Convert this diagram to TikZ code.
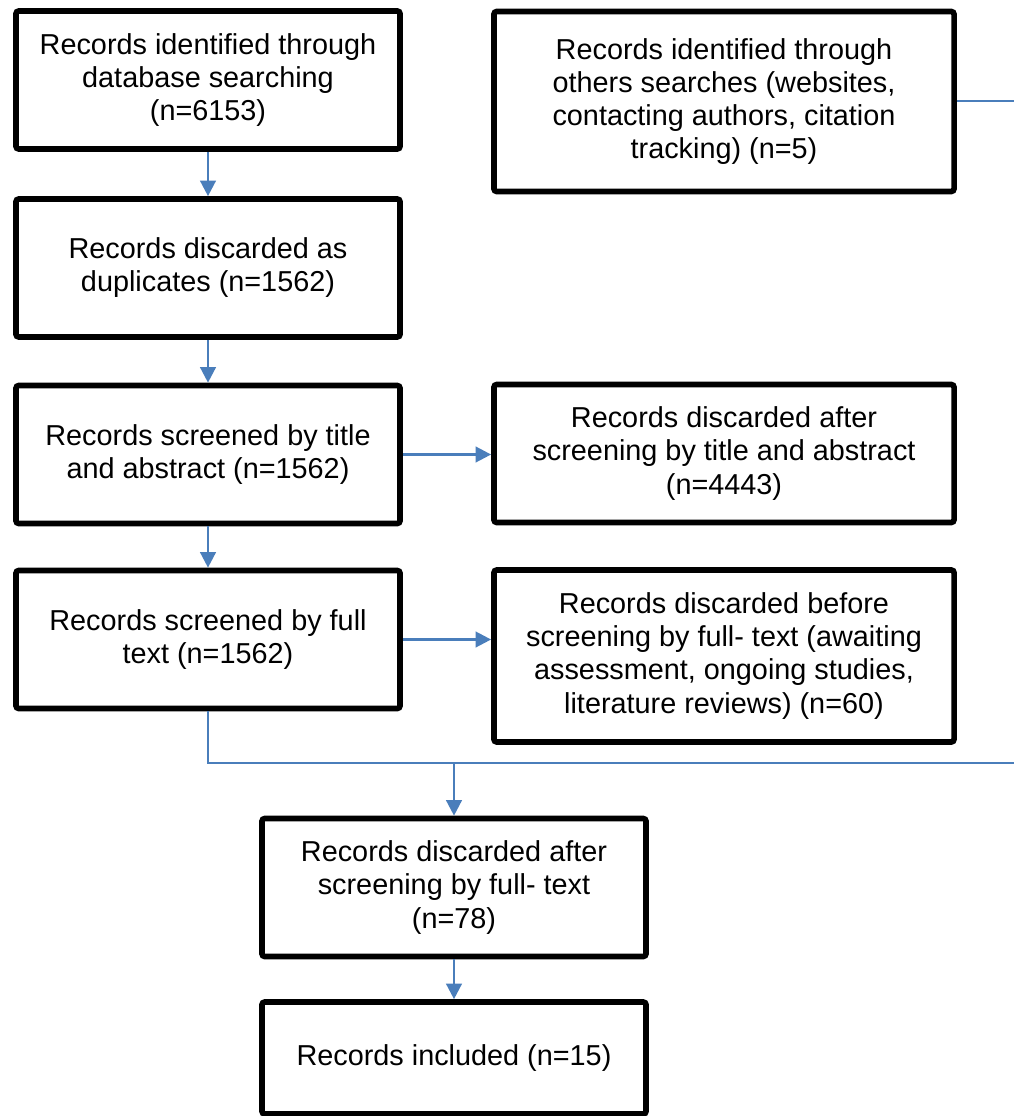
\documentclass[tikz,border=0pt]{standalone}
\usepackage{fontspec}
\setmainfont{Liberation Sans}
\usetikzlibrary{positioning,arrows.meta,calc}
\definecolor{flowCol}{HTML}{4A7EBB}
\definecolor{boxStroke}{HTML}{000000}

\begin{document}
\begin{tikzpicture}[
  x=0.025cm, y=-0.025cm,
  font=\fontsize{20.5}{23.5}\selectfont,
  rec/.style={draw=boxStroke, line width=4pt, rounded corners=2pt, minimum width=9.6cm, minimum height=3.45cm, align=center, inner sep=2pt},
  widerec/.style={rec, minimum width=11.5cm},
  flowarr/.style={-{Triangle[length=11pt, width=11pt]}, draw=flowCol, line width=1.8pt},
  flowline/.style={draw=flowCol, line width=1.8pt}
]
\useasboundingbox (0,0) rectangle (1014,1116);

% ============================================================
% LEFT COLUMN: identification and screening
% ============================================================
\node[rec] (dbsearch) at (208,80) {Records identified through\\database searching\\(n=6153)};
\node[rec] (dupl) at (208,268) {Records discarded as\\duplicates (n=1562)};
\node[rec] (scrTitle) at (208,454.5) {Records screened by title\\and abstract (n=1562)};
\node[rec] (scrFull) at (208,639.5) {Records screened by full\\text (n=1562)};

% ============================================================
% RIGHT COLUMN: other sources and exclusions
% ============================================================
\node[widerec, minimum height=4.5cm] (others) at (724,101.5) {Records identified through\\others searches (websites,\\contacting authors, citation\\tracking) (n=5)};
\node[widerec] (discTitle) at (724,453.5) {Records discarded after\\screening by title and abstract\\(n=4443)};
\node[widerec, minimum height=4.3cm] (discBefore) at (724,656) {Records discarded before\\screening by full- text (awaiting\\assessment, ongoing studies,\\literature reviews) (n=60)};

% ============================================================
% BOTTOM: after full text and included
% ============================================================
\node[rec] (discFull) at (454,887.5) {Records discarded after\\screening by full- text\\(n=78)};
\node[rec, minimum height=2.8cm] (incl) at (454,1058) {Records included (n=15)};

% ============================================================
% CONNECTORS
% ============================================================
\coordinate (edgeTop) at (1014,101);
\coordinate (edgeMerge) at (1014,763);
\coordinate (junc) at (discFull.north |- edgeMerge);

\draw[flowarr] (dbsearch.south) -- (dupl.north);
\draw[flowarr] (dupl.south) -- (scrTitle.north);
\draw[flowarr] (scrTitle.south) -- (scrFull.north);
\draw[flowarr] (scrTitle.east) -- (discTitle.west |- scrTitle.east);
\draw[flowarr] (scrFull.east) -- (discBefore.west |- scrFull.east);
\draw[flowline] (others.east |- edgeTop) -- (edgeTop);
\draw[flowline] (scrFull.south) |- (edgeMerge);
\draw[flowarr] (junc) -- (discFull.north);
\draw[flowarr] (discFull.south) -- (incl.north);

\end{tikzpicture}
\end{document}
